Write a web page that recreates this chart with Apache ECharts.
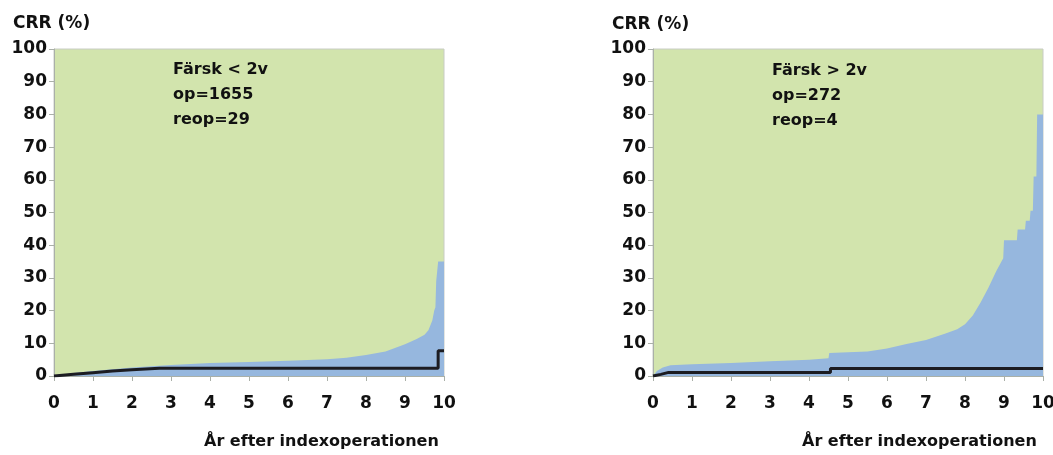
<!DOCTYPE html>
<html>
<head>
<meta charset="utf-8">
<script src="https://cdn.jsdelivr.net/npm/echarts@6/dist/echarts.min.js"></script>
<style>
    html, body { margin: 0; padding: 0; background: #fff; }
    #chart { width: 1053px; height: 455px; }
</style>
</head>
<body>
<div id="chart"></div>
<script>
// x = år efter indexoperationen, y = CRR (%)
const xTicks = [0, 1, 2, 3, 4, 5, 6, 7, 8, 9, 10]
const yTicks = [0, 10, 20, 30, 40, 50, 60, 70, 80, 90, 100]

// vänster: Färsk < 2v
const leftInfo = ['Färsk < 2v', 'op=1655', 'reop=29']
const leftCrrX = [0, 0.5, 1, 1.5, 2, 2.7, 9.85, 9.85, 10]
const leftCrrY = [0, 0.5, 1.0, 1.5, 1.9, 2.35, 2.35, 7.7, 7.7]
const leftUpperX = [0, 0.5, 1, 2, 3, 4, 5, 6, 7, 7.5, 8, 8.5, 9, 9.3, 9.5, 9.6, 9.7, 9.75, 9.78, 9.8, 9.83, 9.85, 10]
const leftUpperY = [0, 0.9, 1.5, 2.6, 3.4, 4.0, 4.3, 4.7, 5.1, 5.6, 6.4, 7.5, 9.7, 11.3, 12.6, 14, 17, 20, 21, 29, 29, 35, 35]

// höger: Färsk > 2v
const rightInfo = ['Färsk > 2v', 'op=272', 'reop=4']
const rightCrrX = [0, 0.2, 0.4, 4.55, 4.55, 10]
const rightCrrY = [0, 0.5, 1.1, 1.1, 2.3, 2.3]
const rightUpperX = [0, 0.1, 0.25, 0.45, 1, 2, 3, 4, 4.5, 4.52, 5, 5.5, 6, 6.5, 7, 7.5, 7.8, 8, 8.2, 8.4, 8.6, 8.8, 8.98, 9.0, 9.33, 9.35, 9.54, 9.56, 9.66, 9.68, 9.74, 9.76, 9.83, 9.85, 10]
const rightUpperY = [0, 1.5, 2.6, 3.3, 3.6, 4.0, 4.5, 5.0, 5.4, 7.0, 7.3, 7.5, 8.4, 9.8, 11, 13, 14.3, 15.8, 18.5, 22.5, 27, 32, 36, 41.5, 41.5, 44.8, 44.8, 47.5, 47.5, 50.5, 50.5, 61, 61, 80, 80]

const green = 'rgb(210, 228, 173)'
const blue = 'rgb(150, 183, 222)'
const font = 'DejaVu Sans, Arial, sans-serif'

const chartObj = echarts.init(document.getElementById('chart'))

function zip(xs, ys) {
    return xs.map((x, i) => [x, ys[i]])
}

function getGrid(left, top) {
    return {
        left: left, top: top, width: 390, height: 327,
        outerBoundsMode: 'none',
        show: true,
        backgroundColor: green,
        borderColor: '#c8ccc4',
        borderWidth: 1
    }
}

function getXAxis(idx) {
    return {
        gridIndex: idx,
        type: 'value',
        min: 0, max: 10, interval: 1,
        axisLine: {show: true, lineStyle: {color: '#aab0a8'}},
        axisTick: {show: true, length: 5, lineStyle: {color: '#aab0a8'}},
        splitLine: {show: false},
        axisLabel: {
            margin: 19, fontSize: 17, fontWeight: 'bold', color: '#111', fontFamily: font,
            formatter: v => xTicks.includes(v) ? String(v) : ''
        }
    }
}

function getYAxis(idx) {
    return {
        gridIndex: idx,
        type: 'value',
        min: 0, max: 100, interval: 10,
        axisLine: {show: true, lineStyle: {color: '#aab0a8'}},
        axisTick: {show: true, length: 5, lineStyle: {color: '#aab0a8'}},
        splitLine: {show: false},
        axisLabel: {
            margin: 7, fontSize: 17, fontWeight: 'bold', color: '#111', fontFamily: font,
            formatter: v => yTicks.includes(v) ? String(v) : ''
        }
    }
}

function upperSeries(idx, xs, ys) {
    return {
        type: 'line',
        xAxisIndex: idx, yAxisIndex: idx,
        data: zip(xs, ys),
        symbol: 'none',
        lineStyle: {width: 0},
        areaStyle: {color: blue, opacity: 1},
        z: 2
    }
}

function crrSeries(idx, xs, ys) {
    return {
        type: 'line',
        xAxisIndex: idx, yAxisIndex: idx,
        data: zip(xs, ys),
        symbol: 'none',
        lineStyle: {width: 3, color: '#1c1c22'},
        z: 3
    }
}

function textBlock(left, top, lines) {
    return {
        type: 'text', left: left, top: top,
        style: {
            text: lines.join('\n'), fontSize: 16, fontWeight: 'bold', fontFamily: font,
            fill: '#111', lineHeight: 25
        }
    }
}

function titleText(left, top, text, size) {
    return {
        type: 'text', left: left, top: top,
        style: {text: text, fontSize: size, fontWeight: 'bold', fontFamily: font, fill: '#111'}
    }
}

const option = {
    backgroundColor: '#fff',
    animation: false,
    grid: [getGrid(54, 49), getGrid(653, 49)],
    xAxis: [getXAxis(0), getXAxis(1)],
    yAxis: [getYAxis(0), getYAxis(1)],
    series: [
        upperSeries(0, leftUpperX, leftUpperY),
        crrSeries(0, leftCrrX, leftCrrY),
        upperSeries(1, rightUpperX, rightUpperY),
        crrSeries(1, rightCrrX, rightCrrY)
    ],
    graphic: [
        titleText(13, 15, 'CRR (%)', 17),
        titleText(612, 16, 'CRR (%)', 17),
        textBlock(173, 57, leftInfo),
        textBlock(772, 58, rightInfo),
        titleText(204, 434, 'År efter indexoperationen', 16),
        titleText(802, 434, 'År efter indexoperationen', 16)
    ]
}

chartObj.setOption(option)
</script>
</body>
</html>
